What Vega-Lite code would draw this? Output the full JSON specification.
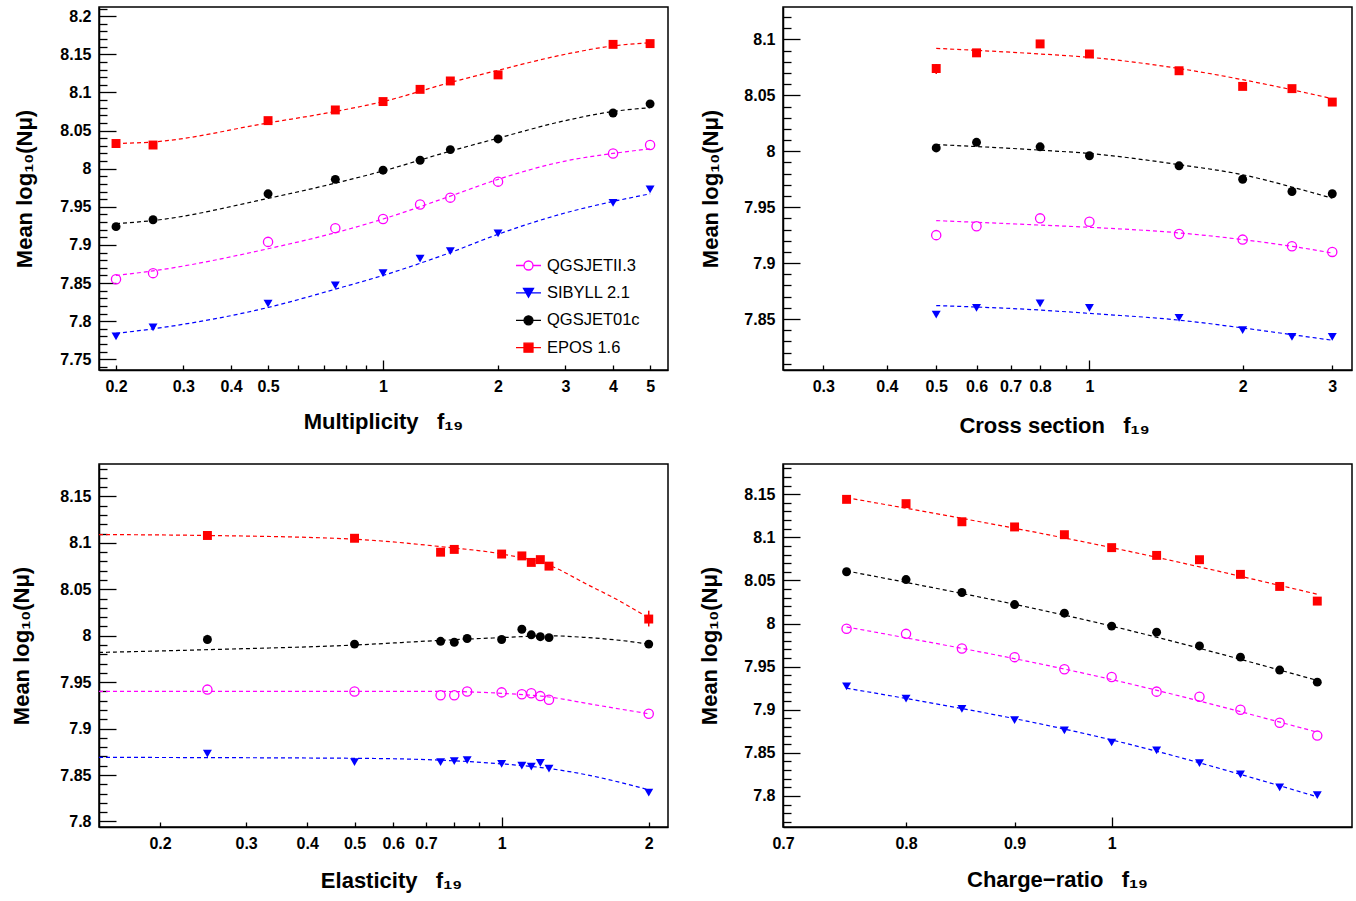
{
  "$schema": "https://vega.github.io/schema/vega-lite/v6.json",
  "background": "white",
  "autosize": {"type": "none"},
  "padding": {"left": 99, "top": 7, "right": 1257, "bottom": 894},
  "bounds": "flush",
  "columns": 2,
  "spacing": {"row": 94, "column": 115},
  "datasets": {
    "pts": [
      {"p":1,"m":"EPOS 1.6","x":0.2,"y":8.033},{"p":1,"m":"EPOS 1.6","x":0.25,"y":8.031},{"p":1,"m":"EPOS 1.6","x":0.5,"y":8.063},{"p":1,"m":"EPOS 1.6","x":0.75,"y":8.077},{"p":1,"m":"EPOS 1.6","x":1,"y":8.088},{"p":1,"m":"EPOS 1.6","x":1.25,"y":8.104},{"p":1,"m":"EPOS 1.6","x":1.5,"y":8.115},{"p":1,"m":"EPOS 1.6","x":2,"y":8.123},{"p":1,"m":"EPOS 1.6","x":4,"y":8.163},{"p":1,"m":"EPOS 1.6","x":5,"y":8.164},
      {"p":1,"m":"QGSJET01c","x":0.2,"y":7.924},{"p":1,"m":"QGSJET01c","x":0.25,"y":7.933},{"p":1,"m":"QGSJET01c","x":0.5,"y":7.967},{"p":1,"m":"QGSJET01c","x":0.75,"y":7.986},{"p":1,"m":"QGSJET01c","x":1,"y":7.998},{"p":1,"m":"QGSJET01c","x":1.25,"y":8.011},{"p":1,"m":"QGSJET01c","x":1.5,"y":8.025},{"p":1,"m":"QGSJET01c","x":2,"y":8.039},{"p":1,"m":"QGSJET01c","x":4,"y":8.073},{"p":1,"m":"QGSJET01c","x":5,"y":8.085},
      {"p":1,"m":"QGSJETII.3","x":0.2,"y":7.855},{"p":1,"m":"QGSJETII.3","x":0.25,"y":7.863},{"p":1,"m":"QGSJETII.3","x":0.5,"y":7.904},{"p":1,"m":"QGSJETII.3","x":0.75,"y":7.922},{"p":1,"m":"QGSJETII.3","x":1,"y":7.934},{"p":1,"m":"QGSJETII.3","x":1.25,"y":7.953},{"p":1,"m":"QGSJETII.3","x":1.5,"y":7.962},{"p":1,"m":"QGSJETII.3","x":2,"y":7.983},{"p":1,"m":"QGSJETII.3","x":4,"y":8.02},{"p":1,"m":"QGSJETII.3","x":5,"y":8.031},
      {"p":1,"m":"SIBYLL 2.1","x":0.2,"y":7.78},{"p":1,"m":"SIBYLL 2.1","x":0.25,"y":7.792},{"p":1,"m":"SIBYLL 2.1","x":0.5,"y":7.823},{"p":1,"m":"SIBYLL 2.1","x":0.75,"y":7.847},{"p":1,"m":"SIBYLL 2.1","x":1,"y":7.863},{"p":1,"m":"SIBYLL 2.1","x":1.25,"y":7.882},{"p":1,"m":"SIBYLL 2.1","x":1.5,"y":7.892},{"p":1,"m":"SIBYLL 2.1","x":2,"y":7.915},{"p":1,"m":"SIBYLL 2.1","x":4,"y":7.955},{"p":1,"m":"SIBYLL 2.1","x":5,"y":7.973},

      {"p":2,"m":"EPOS 1.6","x":0.5,"y":8.074},{"p":2,"m":"EPOS 1.6","x":0.6,"y":8.088},{"p":2,"m":"EPOS 1.6","x":0.8,"y":8.096},{"p":2,"m":"EPOS 1.6","x":1,"y":8.087},{"p":2,"m":"EPOS 1.6","x":1.5,"y":8.072},{"p":2,"m":"EPOS 1.6","x":2,"y":8.058},{"p":2,"m":"EPOS 1.6","x":2.5,"y":8.056},{"p":2,"m":"EPOS 1.6","x":3,"y":8.044},
      {"p":2,"m":"QGSJET01c","x":0.5,"y":8.003},{"p":2,"m":"QGSJET01c","x":0.6,"y":8.008},{"p":2,"m":"QGSJET01c","x":0.8,"y":8.004},{"p":2,"m":"QGSJET01c","x":1,"y":7.996},{"p":2,"m":"QGSJET01c","x":1.5,"y":7.987},{"p":2,"m":"QGSJET01c","x":2,"y":7.975},{"p":2,"m":"QGSJET01c","x":2.5,"y":7.964},{"p":2,"m":"QGSJET01c","x":3,"y":7.962},
      {"p":2,"m":"QGSJETII.3","x":0.5,"y":7.925},{"p":2,"m":"QGSJETII.3","x":0.6,"y":7.933},{"p":2,"m":"QGSJETII.3","x":0.8,"y":7.94},{"p":2,"m":"QGSJETII.3","x":1,"y":7.937},{"p":2,"m":"QGSJETII.3","x":1.5,"y":7.926},{"p":2,"m":"QGSJETII.3","x":2,"y":7.921},{"p":2,"m":"QGSJETII.3","x":2.5,"y":7.915},{"p":2,"m":"QGSJETII.3","x":3,"y":7.91},
      {"p":2,"m":"SIBYLL 2.1","x":0.5,"y":7.854},{"p":2,"m":"SIBYLL 2.1","x":0.6,"y":7.86},{"p":2,"m":"SIBYLL 2.1","x":0.8,"y":7.864},{"p":2,"m":"SIBYLL 2.1","x":1,"y":7.86},{"p":2,"m":"SIBYLL 2.1","x":1.5,"y":7.851},{"p":2,"m":"SIBYLL 2.1","x":2,"y":7.84},{"p":2,"m":"SIBYLL 2.1","x":2.5,"y":7.834},{"p":2,"m":"SIBYLL 2.1","x":3,"y":7.834},

      {"p":3,"m":"EPOS 1.6","x":0.25,"y":8.108},{"p":3,"m":"EPOS 1.6","x":0.5,"y":8.105},{"p":3,"m":"EPOS 1.6","x":0.75,"y":8.09},{"p":3,"m":"EPOS 1.6","x":0.8,"y":8.093},{"p":3,"m":"EPOS 1.6","x":1,"y":8.088},{"p":3,"m":"EPOS 1.6","x":1.1,"y":8.086},{"p":3,"m":"EPOS 1.6","x":1.15,"y":8.079},{"p":3,"m":"EPOS 1.6","x":1.2,"y":8.082},{"p":3,"m":"EPOS 1.6","x":1.25,"y":8.075},{"p":3,"m":"EPOS 1.6","x":2,"y":8.018},
      {"p":3,"m":"QGSJET01c","x":0.25,"y":7.996},{"p":3,"m":"QGSJET01c","x":0.5,"y":7.991},{"p":3,"m":"QGSJET01c","x":0.75,"y":7.994},{"p":3,"m":"QGSJET01c","x":0.8,"y":7.993},{"p":3,"m":"QGSJET01c","x":0.85,"y":7.997},{"p":3,"m":"QGSJET01c","x":1,"y":7.996},{"p":3,"m":"QGSJET01c","x":1.1,"y":8.007},{"p":3,"m":"QGSJET01c","x":1.15,"y":8.001},{"p":3,"m":"QGSJET01c","x":1.2,"y":7.999},{"p":3,"m":"QGSJET01c","x":1.25,"y":7.998},{"p":3,"m":"QGSJET01c","x":2,"y":7.991},
      {"p":3,"m":"QGSJETII.3","x":0.25,"y":7.942},{"p":3,"m":"QGSJETII.3","x":0.5,"y":7.94},{"p":3,"m":"QGSJETII.3","x":0.75,"y":7.936},{"p":3,"m":"QGSJETII.3","x":0.8,"y":7.936},{"p":3,"m":"QGSJETII.3","x":0.85,"y":7.94},{"p":3,"m":"QGSJETII.3","x":1,"y":7.939},{"p":3,"m":"QGSJETII.3","x":1.1,"y":7.937},{"p":3,"m":"QGSJETII.3","x":1.15,"y":7.938},{"p":3,"m":"QGSJETII.3","x":1.2,"y":7.935},{"p":3,"m":"QGSJETII.3","x":1.25,"y":7.931},{"p":3,"m":"QGSJETII.3","x":2,"y":7.916},
      {"p":3,"m":"SIBYLL 2.1","x":0.25,"y":7.873},{"p":3,"m":"SIBYLL 2.1","x":0.5,"y":7.864},{"p":3,"m":"SIBYLL 2.1","x":0.75,"y":7.864},{"p":3,"m":"SIBYLL 2.1","x":0.8,"y":7.865},{"p":3,"m":"SIBYLL 2.1","x":0.85,"y":7.866},{"p":3,"m":"SIBYLL 2.1","x":1,"y":7.862},{"p":3,"m":"SIBYLL 2.1","x":1.1,"y":7.86},{"p":3,"m":"SIBYLL 2.1","x":1.15,"y":7.859},{"p":3,"m":"SIBYLL 2.1","x":1.2,"y":7.863},{"p":3,"m":"SIBYLL 2.1","x":1.25,"y":7.857},{"p":3,"m":"SIBYLL 2.1","x":2,"y":7.831},

      {"p":4,"m":"EPOS 1.6","x":0.75,"y":8.144},{"p":4,"m":"EPOS 1.6","x":0.8,"y":8.139},{"p":4,"m":"EPOS 1.6","x":0.85,"y":8.118},{"p":4,"m":"EPOS 1.6","x":0.9,"y":8.112},{"p":4,"m":"EPOS 1.6","x":0.95,"y":8.103},{"p":4,"m":"EPOS 1.6","x":1,"y":8.088},{"p":4,"m":"EPOS 1.6","x":1.05,"y":8.079},{"p":4,"m":"EPOS 1.6","x":1.1,"y":8.074},{"p":4,"m":"EPOS 1.6","x":1.15,"y":8.057},{"p":4,"m":"EPOS 1.6","x":1.2,"y":8.043},{"p":4,"m":"EPOS 1.6","x":1.25,"y":8.026},
      {"p":4,"m":"QGSJET01c","x":0.75,"y":8.06},{"p":4,"m":"QGSJET01c","x":0.8,"y":8.051},{"p":4,"m":"QGSJET01c","x":0.85,"y":8.036},{"p":4,"m":"QGSJET01c","x":0.9,"y":8.022},{"p":4,"m":"QGSJET01c","x":0.95,"y":8.012},{"p":4,"m":"QGSJET01c","x":1,"y":7.997},{"p":4,"m":"QGSJET01c","x":1.05,"y":7.99},{"p":4,"m":"QGSJET01c","x":1.1,"y":7.974},{"p":4,"m":"QGSJET01c","x":1.15,"y":7.961},{"p":4,"m":"QGSJET01c","x":1.2,"y":7.946},{"p":4,"m":"QGSJET01c","x":1.25,"y":7.932},
      {"p":4,"m":"QGSJETII.3","x":0.75,"y":7.994},{"p":4,"m":"QGSJETII.3","x":0.8,"y":7.988},{"p":4,"m":"QGSJETII.3","x":0.85,"y":7.971},{"p":4,"m":"QGSJETII.3","x":0.9,"y":7.961},{"p":4,"m":"QGSJETII.3","x":0.95,"y":7.947},{"p":4,"m":"QGSJETII.3","x":1,"y":7.938},{"p":4,"m":"QGSJETII.3","x":1.05,"y":7.921},{"p":4,"m":"QGSJETII.3","x":1.1,"y":7.915},{"p":4,"m":"QGSJETII.3","x":1.15,"y":7.9},{"p":4,"m":"QGSJETII.3","x":1.2,"y":7.885},{"p":4,"m":"QGSJETII.3","x":1.25,"y":7.87},
      {"p":4,"m":"SIBYLL 2.1","x":0.75,"y":7.927},{"p":4,"m":"SIBYLL 2.1","x":0.8,"y":7.913},{"p":4,"m":"SIBYLL 2.1","x":0.85,"y":7.901},{"p":4,"m":"SIBYLL 2.1","x":0.9,"y":7.888},{"p":4,"m":"SIBYLL 2.1","x":0.95,"y":7.876},{"p":4,"m":"SIBYLL 2.1","x":1,"y":7.862},{"p":4,"m":"SIBYLL 2.1","x":1.05,"y":7.853},{"p":4,"m":"SIBYLL 2.1","x":1.1,"y":7.838},{"p":4,"m":"SIBYLL 2.1","x":1.15,"y":7.825},{"p":4,"m":"SIBYLL 2.1","x":1.2,"y":7.81},{"p":4,"m":"SIBYLL 2.1","x":1.25,"y":7.801}
    ],
    "fits": [
      {"p":1,"m":"EPOS 1.6","x":0.2,"y":8.033},{"p":1,"m":"EPOS 1.6","x":0.25,"y":8.035},{"p":1,"m":"EPOS 1.6","x":0.5,"y":8.06},{"p":1,"m":"EPOS 1.6","x":0.75,"y":8.075},{"p":1,"m":"EPOS 1.6","x":1,"y":8.088},{"p":1,"m":"EPOS 1.6","x":1.5,"y":8.113},{"p":1,"m":"EPOS 1.6","x":2,"y":8.129},{"p":1,"m":"EPOS 1.6","x":3,"y":8.15},{"p":1,"m":"EPOS 1.6","x":4,"y":8.161},{"p":1,"m":"EPOS 1.6","x":5,"y":8.165},
      {"p":1,"m":"QGSJET01c","x":0.2,"y":7.928},{"p":1,"m":"QGSJET01c","x":0.25,"y":7.932},{"p":1,"m":"QGSJET01c","x":0.5,"y":7.961},{"p":1,"m":"QGSJET01c","x":0.75,"y":7.981},{"p":1,"m":"QGSJET01c","x":1,"y":7.997},{"p":1,"m":"QGSJET01c","x":1.5,"y":8.023},{"p":1,"m":"QGSJET01c","x":2,"y":8.04},{"p":1,"m":"QGSJET01c","x":3,"y":8.063},{"p":1,"m":"QGSJET01c","x":4,"y":8.075},{"p":1,"m":"QGSJET01c","x":5,"y":8.08},
      {"p":1,"m":"QGSJETII.3","x":0.2,"y":7.86},{"p":1,"m":"QGSJETII.3","x":0.25,"y":7.866},{"p":1,"m":"QGSJETII.3","x":0.5,"y":7.895},{"p":1,"m":"QGSJETII.3","x":0.75,"y":7.916},{"p":1,"m":"QGSJETII.3","x":1,"y":7.934},{"p":1,"m":"QGSJETII.3","x":1.5,"y":7.964},{"p":1,"m":"QGSJETII.3","x":2,"y":7.986},{"p":1,"m":"QGSJETII.3","x":3,"y":8.01},{"p":1,"m":"QGSJETII.3","x":4,"y":8.02},{"p":1,"m":"QGSJETII.3","x":5,"y":8.026},
      {"p":1,"m":"SIBYLL 2.1","x":0.2,"y":7.784},{"p":1,"m":"SIBYLL 2.1","x":0.25,"y":7.79},{"p":1,"m":"SIBYLL 2.1","x":0.5,"y":7.818},{"p":1,"m":"SIBYLL 2.1","x":0.75,"y":7.842},{"p":1,"m":"SIBYLL 2.1","x":1,"y":7.86},{"p":1,"m":"SIBYLL 2.1","x":1.5,"y":7.89},{"p":1,"m":"SIBYLL 2.1","x":2,"y":7.914},{"p":1,"m":"SIBYLL 2.1","x":3,"y":7.942},{"p":1,"m":"SIBYLL 2.1","x":4,"y":7.957},{"p":1,"m":"SIBYLL 2.1","x":5,"y":7.967},

      {"p":2,"m":"EPOS 1.6","x":0.5,"y":8.092},{"p":2,"m":"EPOS 1.6","x":0.8,"y":8.087},{"p":2,"m":"EPOS 1.6","x":1,"y":8.084},{"p":2,"m":"EPOS 1.6","x":1.5,"y":8.074},{"p":2,"m":"EPOS 1.6","x":2,"y":8.064},{"p":2,"m":"EPOS 1.6","x":2.5,"y":8.055},{"p":2,"m":"EPOS 1.6","x":3,"y":8.047},
      {"p":2,"m":"QGSJET01c","x":0.5,"y":8.006},{"p":2,"m":"QGSJET01c","x":0.8,"y":8.001},{"p":2,"m":"QGSJET01c","x":1,"y":7.998},{"p":2,"m":"QGSJET01c","x":1.5,"y":7.988},{"p":2,"m":"QGSJET01c","x":2,"y":7.979},{"p":2,"m":"QGSJET01c","x":2.5,"y":7.968},{"p":2,"m":"QGSJET01c","x":3,"y":7.958},
      {"p":2,"m":"QGSJETII.3","x":0.5,"y":7.938},{"p":2,"m":"QGSJETII.3","x":0.8,"y":7.934},{"p":2,"m":"QGSJETII.3","x":1,"y":7.932},{"p":2,"m":"QGSJETII.3","x":1.5,"y":7.927},{"p":2,"m":"QGSJETII.3","x":2,"y":7.921},{"p":2,"m":"QGSJETII.3","x":2.5,"y":7.915},{"p":2,"m":"QGSJETII.3","x":3,"y":7.909},
      {"p":2,"m":"SIBYLL 2.1","x":0.5,"y":7.862},{"p":2,"m":"SIBYLL 2.1","x":0.8,"y":7.858},{"p":2,"m":"SIBYLL 2.1","x":1,"y":7.855},{"p":2,"m":"SIBYLL 2.1","x":1.5,"y":7.849},{"p":2,"m":"SIBYLL 2.1","x":2,"y":7.842},{"p":2,"m":"SIBYLL 2.1","x":2.5,"y":7.836},{"p":2,"m":"SIBYLL 2.1","x":3,"y":7.831},

      {"p":3,"m":"EPOS 1.6","x":0.15,"y":8.109},{"p":3,"m":"EPOS 1.6","x":0.25,"y":8.108},{"p":3,"m":"EPOS 1.6","x":0.5,"y":8.104},{"p":3,"m":"EPOS 1.6","x":0.75,"y":8.096},{"p":3,"m":"EPOS 1.6","x":1,"y":8.088},{"p":3,"m":"EPOS 1.6","x":1.25,"y":8.076},{"p":3,"m":"EPOS 1.6","x":1.5,"y":8.055},{"p":3,"m":"EPOS 1.6","x":1.75,"y":8.037},{"p":3,"m":"EPOS 1.6","x":2,"y":8.019},
      {"p":3,"m":"QGSJET01c","x":0.15,"y":7.982},{"p":3,"m":"QGSJET01c","x":0.25,"y":7.985},{"p":3,"m":"QGSJET01c","x":0.5,"y":7.99},{"p":3,"m":"QGSJET01c","x":0.75,"y":7.995},{"p":3,"m":"QGSJET01c","x":1,"y":7.998},{"p":3,"m":"QGSJET01c","x":1.25,"y":8.0},{"p":3,"m":"QGSJET01c","x":1.5,"y":7.998},{"p":3,"m":"QGSJET01c","x":1.75,"y":7.995},{"p":3,"m":"QGSJET01c","x":2,"y":7.991},
      {"p":3,"m":"QGSJETII.3","x":0.15,"y":7.94},{"p":3,"m":"QGSJETII.3","x":0.5,"y":7.94},{"p":3,"m":"QGSJETII.3","x":0.75,"y":7.94},{"p":3,"m":"QGSJETII.3","x":1,"y":7.938},{"p":3,"m":"QGSJETII.3","x":1.25,"y":7.934},{"p":3,"m":"QGSJETII.3","x":1.5,"y":7.927},{"p":3,"m":"QGSJETII.3","x":1.75,"y":7.921},{"p":3,"m":"QGSJETII.3","x":2,"y":7.916},
      {"p":3,"m":"SIBYLL 2.1","x":0.15,"y":7.869},{"p":3,"m":"SIBYLL 2.1","x":0.5,"y":7.868},{"p":3,"m":"SIBYLL 2.1","x":0.75,"y":7.866},{"p":3,"m":"SIBYLL 2.1","x":1,"y":7.862},{"p":3,"m":"SIBYLL 2.1","x":1.25,"y":7.857},{"p":3,"m":"SIBYLL 2.1","x":1.5,"y":7.85},{"p":3,"m":"SIBYLL 2.1","x":1.75,"y":7.842},{"p":3,"m":"SIBYLL 2.1","x":2,"y":7.834},

      {"p":4,"m":"EPOS 1.6","x":0.75,"y":8.146},{"p":4,"m":"EPOS 1.6","x":1,"y":8.088},{"p":4,"m":"EPOS 1.6","x":1.25,"y":8.034},
      {"p":4,"m":"QGSJET01c","x":0.75,"y":8.061},{"p":4,"m":"QGSJET01c","x":1,"y":7.997},{"p":4,"m":"QGSJET01c","x":1.25,"y":7.934},
      {"p":4,"m":"QGSJETII.3","x":0.75,"y":7.996},{"p":4,"m":"QGSJETII.3","x":1,"y":7.935},{"p":4,"m":"QGSJETII.3","x":1.25,"y":7.874},
      {"p":4,"m":"SIBYLL 2.1","x":0.75,"y":7.925},{"p":4,"m":"SIBYLL 2.1","x":1,"y":7.865},{"p":4,"m":"SIBYLL 2.1","x":1.25,"y":7.799}
    ],
    "errs": [
      {"p":2,"m":"EPOS 1.6","x":0.5,"lo":8.069,"hi":8.078},
      {"p":3,"m":"QGSJET01c","x":0.25,"lo":7.992,"hi":8.001},
      {"p":3,"m":"EPOS 1.6","x":2,"lo":8.01,"hi":8.027}
    ]
  },
  "concat": [
    {
      "width": 569, "height": 363,
      "layer": [
        {"data": {"name": "fits"}, "transform": [{"filter": "datum.p == 1"}],
         "mark": {"type": "line", "strokeDash": [4, 3], "strokeWidth": 1.2, "interpolate": "monotone"},
         "encoding": {
           "x": {"field": "x", "type": "quantitative", "scale": {"type": "log", "domain": [0.1805, 5.57], "nice": false},
             "axis": {"title": "Multiplicity\u00a0\u00a0\u00a0f\u2081\u2089", "values": [0.2,0.3,0.4,0.5,0.6,0.7,0.8,0.9,1,2,3,4,5], "tickCount": 200, "format": "~g",
               "labelExpr": "datum.value > 0.55 && datum.value < 0.95 ? '' : datum.label",
               "tickSize": {"condition": {"test": "datum.value == 1", "value": -10}, "value": -5},
               "labelPadding": {"condition": {"test": "datum.value == 1", "value": 18}, "value": 13},
               "titleX": 284, "titleY": 51, "titleBaseline": "middle"}},
           "y": {"field": "y", "type": "quantitative", "scale": {"domain": [7.736, 8.212], "nice": false, "zero": false},
             "axis": {"title": "Mean log\u2081\u2080(N\u03bc)", "format": "~g", "tickCount": 200,
               "values": [7.74,7.75,7.76,7.77,7.78,7.79,7.8,7.81,7.82,7.83,7.84,7.85,7.86,7.87,7.88,7.89,7.9,7.91,7.92,7.93,7.94,7.95,7.96,7.97,7.98,7.99,8,8.01,8.02,8.03,8.04,8.05,8.06,8.07,8.08,8.09,8.1,8.11,8.12,8.13,8.14,8.15,8.16,8.17,8.18,8.19,8.2,8.21],
               "labelExpr": "abs(datum.value*20 - round(datum.value*20)) < 0.01 ? datum.label : ''",
               "tickSize": {"condition": {"test": "abs(datum.value*20 - round(datum.value*20)) < 0.01", "value": -17}, "value": -8},
               "labelPadding": {"condition": {"test": "abs(datum.value*20 - round(datum.value*20)) < 0.01", "value": 25}, "value": 16},
               "titleX": -75, "titleBaseline": "middle"}},
           "stroke": {"field": "m", "type": "nominal", "scale": {"domain": ["EPOS 1.6","QGSJET01c","SIBYLL 2.1","QGSJETII.3"], "range": ["#ff0000","#000000","#0000ff","#ff00ff"]}, "legend": null}
         }},
        {"data": {"name": "pts"}, "transform": [{"filter": "datum.p == 1 && datum.m != 'QGSJETII.3'"}],
         "mark": {"type": "point", "filled": true, "opacity": 1, "size": 80},
         "encoding": {
           "x": {"field": "x", "type": "quantitative"},
           "y": {"field": "y", "type": "quantitative"},
           "shape": {"field": "m", "type": "nominal", "scale": {"domain": ["EPOS 1.6","QGSJET01c","SIBYLL 2.1","QGSJETII.3"], "range": ["square","circle","triangle-down","circle"]}, "legend": null},
           "fill": {"field": "m", "type": "nominal", "scale": {"domain": ["EPOS 1.6","QGSJET01c","SIBYLL 2.1","QGSJETII.3"], "range": ["#ff0000","#000000","#0000ff","#ff00ff"]}, "legend": null}
         }},
        {"data": {"name": "pts"}, "transform": [{"filter": "datum.p == 1 && datum.m == 'QGSJETII.3'"}],
         "mark": {"type": "point", "filled": false, "shape": "circle", "size": 85, "strokeWidth": 1.3, "opacity": 1,
           "fill": {"expr": "(datum.value || datum.m) == 'QGSJETII.3' ? 'transparent' : (datum.value == 'SIBYLL 2.1' ? '#0000ff' : datum.value == 'QGSJET01c' ? '#000000' : '#ff0000')"}},
         "encoding": {
           "x": {"field": "x", "type": "quantitative"},
           "y": {"field": "y", "type": "quantitative"},
           "color": {"field": "m", "type": "nominal", "scale": {"domain": ["QGSJETII.3","SIBYLL 2.1","QGSJET01c","EPOS 1.6"], "range": ["#ff00ff","#0000ff","#000000","#ff0000"]},
             "legend": {"orient": "none", "legendX": 416, "legendY": 245, "title": null, "padding": 0, "symbolSize": 625, "rowPadding": 5.4, "labelOffset": 5,
               "symbolStrokeWidth": 1.3, "symbolOpacity": 1,
               "symbolType": {"expr": "datum.value == 'SIBYLL 2.1' ? 'M-1,0L1,0M-0.4,-0.35L0.4,-0.35L0,0.35Z' : datum.value == 'EPOS 1.6' ? 'M-1,0L-0.36,0M0.36,0L1,0M-0.36,-0.36L0.36,-0.36L0.36,0.36L-0.36,0.36Z' : 'M-1,0L-0.36,0M0.36,0L1,0M-0.36,0A0.36,0.36,0,1,0,0.36,0A0.36,0.36,0,1,0,-0.36,0'"},
               "labelFont": "Liberation Sans", "labelFontSize": 16.5, "labelFontWeight": "normal", "labelColor": "black"}}
         }}
      ]
    },
    {
      "width": 569, "height": 363,
      "layer": [
        {"data": {"name": "fits"}, "transform": [{"filter": "datum.p == 2"}],
         "mark": {"type": "line", "strokeDash": [4, 3], "strokeWidth": 1.2, "interpolate": "monotone"},
         "encoding": {
           "x": {"field": "x", "type": "quantitative", "scale": {"type": "log", "domain": [0.25, 3.28], "nice": false},
             "axis": {"title": "Cross section\u00a0\u00a0\u00a0f\u2081\u2089", "values": [0.3,0.4,0.5,0.6,0.7,0.8,0.9,1,2,3], "tickCount": 200, "format": "~g",
               "labelExpr": "datum.value > 0.85 && datum.value < 0.95 ? '' : datum.label",
               "tickSize": {"condition": {"test": "datum.value == 1", "value": -10}, "value": -5},
               "labelPadding": {"condition": {"test": "datum.value == 1", "value": 18}, "value": 13},
               "titleX": 271, "titleY": 55, "titleBaseline": "middle"}},
           "y": {"field": "y", "type": "quantitative", "scale": {"domain": [7.8044, 8.129], "nice": false, "zero": false},
             "axis": {"title": "Mean log\u2081\u2080(N\u03bc)", "format": "~g", "tickCount": 200,
               "values": [7.81,7.82,7.83,7.84,7.85,7.86,7.87,7.88,7.89,7.9,7.91,7.92,7.93,7.94,7.95,7.96,7.97,7.98,7.99,8,8.01,8.02,8.03,8.04,8.05,8.06,8.07,8.08,8.09,8.1,8.11,8.12],
               "labelExpr": "abs(datum.value*20 - round(datum.value*20)) < 0.01 ? datum.label : ''",
               "tickSize": {"condition": {"test": "abs(datum.value*20 - round(datum.value*20)) < 0.01", "value": -17}, "value": -8},
               "labelPadding": {"condition": {"test": "abs(datum.value*20 - round(datum.value*20)) < 0.01", "value": 25}, "value": 16},
               "titleX": -73, "titleBaseline": "middle"}},
           "stroke": {"field": "m", "type": "nominal", "scale": {"domain": ["EPOS 1.6","QGSJET01c","SIBYLL 2.1","QGSJETII.3"], "range": ["#ff0000","#000000","#0000ff","#ff00ff"]}, "legend": null}
         }},
        {"data": {"name": "errs"}, "transform": [{"filter": "datum.p == 2"}],
         "mark": {"type": "rule", "strokeWidth": 1.5},
         "encoding": {
           "x": {"field": "x", "type": "quantitative"},
           "y": {"field": "lo", "type": "quantitative"},
           "y2": {"field": "hi"},
           "stroke": {"field": "m", "type": "nominal", "scale": {"domain": ["EPOS 1.6","QGSJET01c","SIBYLL 2.1","QGSJETII.3"], "range": ["#ff0000","#000000","#0000ff","#ff00ff"]}, "legend": null}
         }},
        {"data": {"name": "pts"}, "transform": [{"filter": "datum.p == 2 && datum.m != 'QGSJETII.3'"}],
         "mark": {"type": "point", "filled": true, "opacity": 1, "size": 80},
         "encoding": {
           "x": {"field": "x", "type": "quantitative"},
           "y": {"field": "y", "type": "quantitative"},
           "shape": {"field": "m", "type": "nominal", "scale": {"domain": ["EPOS 1.6","QGSJET01c","SIBYLL 2.1","QGSJETII.3"], "range": ["square","circle","triangle-down","circle"]}, "legend": null},
           "fill": {"field": "m", "type": "nominal", "scale": {"domain": ["EPOS 1.6","QGSJET01c","SIBYLL 2.1","QGSJETII.3"], "range": ["#ff0000","#000000","#0000ff","#ff00ff"]}, "legend": null}
         }},
        {"data": {"name": "pts"}, "transform": [{"filter": "datum.p == 2 && datum.m == 'QGSJETII.3'"}],
         "mark": {"type": "point", "filled": false, "shape": "circle", "size": 85, "strokeWidth": 1.3, "opacity": 1},
         "encoding": {
           "x": {"field": "x", "type": "quantitative"},
           "y": {"field": "y", "type": "quantitative"},
           "stroke": {"field": "m", "type": "nominal", "scale": {"domain": ["EPOS 1.6","QGSJET01c","SIBYLL 2.1","QGSJETII.3"], "range": ["#ff0000","#000000","#0000ff","#ff00ff"]}, "legend": null}
         }}
      ]
    },
    {
      "width": 569, "height": 363,
      "layer": [
        {"data": {"name": "fits"}, "transform": [{"filter": "datum.p == 3"}],
         "mark": {"type": "line", "strokeDash": [4, 3], "strokeWidth": 1.2, "interpolate": "monotone"},
         "encoding": {
           "x": {"field": "x", "type": "quantitative", "scale": {"type": "log", "domain": [0.15, 2.19], "nice": false},
             "axis": {"title": "Elasticity\u00a0\u00a0\u00a0f\u2081\u2089", "values": [0.2,0.3,0.4,0.5,0.6,0.7,0.8,0.9,1,2], "tickCount": 200, "format": "~g",
               "labelExpr": "datum.value > 0.75 && datum.value < 0.95 ? '' : datum.label",
               "tickSize": {"condition": {"test": "datum.value == 1", "value": -10}, "value": -5},
               "labelPadding": {"condition": {"test": "datum.value == 1", "value": 18}, "value": 13},
               "titleX": 292, "titleY": 53, "titleBaseline": "middle"}},
           "y": {"field": "y", "type": "quantitative", "scale": {"domain": [7.794, 8.185], "nice": false, "zero": false},
             "axis": {"title": "Mean log\u2081\u2080(N\u03bc)", "format": "~g", "tickCount": 200,
               "values": [7.8,7.81,7.82,7.83,7.84,7.85,7.86,7.87,7.88,7.89,7.9,7.91,7.92,7.93,7.94,7.95,7.96,7.97,7.98,7.99,8,8.01,8.02,8.03,8.04,8.05,8.06,8.07,8.08,8.09,8.1,8.11,8.12,8.13,8.14,8.15,8.16,8.17,8.18],
               "labelExpr": "abs(datum.value*20 - round(datum.value*20)) < 0.01 ? datum.label : ''",
               "tickSize": {"condition": {"test": "abs(datum.value*20 - round(datum.value*20)) < 0.01", "value": -17}, "value": -8},
               "labelPadding": {"condition": {"test": "abs(datum.value*20 - round(datum.value*20)) < 0.01", "value": 25}, "value": 16},
               "titleX": -78, "titleBaseline": "middle"}},
           "stroke": {"field": "m", "type": "nominal", "scale": {"domain": ["EPOS 1.6","QGSJET01c","SIBYLL 2.1","QGSJETII.3"], "range": ["#ff0000","#000000","#0000ff","#ff00ff"]}, "legend": null}
         }},
        {"data": {"name": "errs"}, "transform": [{"filter": "datum.p == 3"}],
         "mark": {"type": "rule", "strokeWidth": 1.5},
         "encoding": {
           "x": {"field": "x", "type": "quantitative"},
           "y": {"field": "lo", "type": "quantitative"},
           "y2": {"field": "hi"},
           "stroke": {"field": "m", "type": "nominal", "scale": {"domain": ["EPOS 1.6","QGSJET01c","SIBYLL 2.1","QGSJETII.3"], "range": ["#ff0000","#000000","#0000ff","#ff00ff"]}, "legend": null}
         }},
        {"data": {"name": "pts"}, "transform": [{"filter": "datum.p == 3 && datum.m != 'QGSJETII.3'"}],
         "mark": {"type": "point", "filled": true, "opacity": 1, "size": 80},
         "encoding": {
           "x": {"field": "x", "type": "quantitative"},
           "y": {"field": "y", "type": "quantitative"},
           "shape": {"field": "m", "type": "nominal", "scale": {"domain": ["EPOS 1.6","QGSJET01c","SIBYLL 2.1","QGSJETII.3"], "range": ["square","circle","triangle-down","circle"]}, "legend": null},
           "fill": {"field": "m", "type": "nominal", "scale": {"domain": ["EPOS 1.6","QGSJET01c","SIBYLL 2.1","QGSJETII.3"], "range": ["#ff0000","#000000","#0000ff","#ff00ff"]}, "legend": null}
         }},
        {"data": {"name": "pts"}, "transform": [{"filter": "datum.p == 3 && datum.m == 'QGSJETII.3'"}],
         "mark": {"type": "point", "filled": false, "shape": "circle", "size": 85, "strokeWidth": 1.3, "opacity": 1},
         "encoding": {
           "x": {"field": "x", "type": "quantitative"},
           "y": {"field": "y", "type": "quantitative"},
           "stroke": {"field": "m", "type": "nominal", "scale": {"domain": ["EPOS 1.6","QGSJET01c","SIBYLL 2.1","QGSJETII.3"], "range": ["#ff0000","#000000","#0000ff","#ff00ff"]}, "legend": null}
         }}
      ]
    },
    {
      "width": 569, "height": 363,
      "layer": [
        {"data": {"name": "fits"}, "transform": [{"filter": "datum.p == 4"}],
         "mark": {"type": "line", "strokeDash": [4, 3], "strokeWidth": 1.2, "interpolate": "monotone"},
         "encoding": {
           "x": {"field": "x", "type": "quantitative", "scale": {"type": "log", "domain": [0.7, 1.298], "nice": false},
             "axis": {"title": "Charge\u2212ratio\u00a0\u00a0\u00a0f\u2081\u2089", "values": [0.7,0.8,0.9,1], "tickCount": 200, "format": "~g",
               "tickSize": {"condition": {"test": "datum.value == 1", "value": -10}, "value": -5},
               "labelPadding": {"condition": {"test": "datum.value == 1", "value": 18}, "value": 13},
               "titleX": 274, "titleY": 52, "titleBaseline": "middle"}},
           "y": {"field": "y", "type": "quantitative", "scale": {"domain": [7.764, 8.185], "nice": false, "zero": false},
             "axis": {"title": "Mean log\u2081\u2080(N\u03bc)", "format": "~g", "tickCount": 200,
               "values": [7.77,7.78,7.79,7.8,7.81,7.82,7.83,7.84,7.85,7.86,7.87,7.88,7.89,7.9,7.91,7.92,7.93,7.94,7.95,7.96,7.97,7.98,7.99,8,8.01,8.02,8.03,8.04,8.05,8.06,8.07,8.08,8.09,8.1,8.11,8.12,8.13,8.14,8.15,8.16,8.17,8.18],
               "labelExpr": "abs(datum.value*20 - round(datum.value*20)) < 0.01 ? datum.label : ''",
               "tickSize": {"condition": {"test": "abs(datum.value*20 - round(datum.value*20)) < 0.01", "value": -17}, "value": -8},
               "labelPadding": {"condition": {"test": "abs(datum.value*20 - round(datum.value*20)) < 0.01", "value": 25}, "value": 16},
               "titleX": -74, "titleBaseline": "middle"}},
           "stroke": {"field": "m", "type": "nominal", "scale": {"domain": ["EPOS 1.6","QGSJET01c","SIBYLL 2.1","QGSJETII.3"], "range": ["#ff0000","#000000","#0000ff","#ff00ff"]}, "legend": null}
         }},
        {"data": {"name": "pts"}, "transform": [{"filter": "datum.p == 4 && datum.m != 'QGSJETII.3'"}],
         "mark": {"type": "point", "filled": true, "opacity": 1, "size": 80},
         "encoding": {
           "x": {"field": "x", "type": "quantitative"},
           "y": {"field": "y", "type": "quantitative"},
           "shape": {"field": "m", "type": "nominal", "scale": {"domain": ["EPOS 1.6","QGSJET01c","SIBYLL 2.1","QGSJETII.3"], "range": ["square","circle","triangle-down","circle"]}, "legend": null},
           "fill": {"field": "m", "type": "nominal", "scale": {"domain": ["EPOS 1.6","QGSJET01c","SIBYLL 2.1","QGSJETII.3"], "range": ["#ff0000","#000000","#0000ff","#ff00ff"]}, "legend": null}
         }},
        {"data": {"name": "pts"}, "transform": [{"filter": "datum.p == 4 && datum.m == 'QGSJETII.3'"}],
         "mark": {"type": "point", "filled": false, "shape": "circle", "size": 85, "strokeWidth": 1.3, "opacity": 1},
         "encoding": {
           "x": {"field": "x", "type": "quantitative"},
           "y": {"field": "y", "type": "quantitative"},
           "stroke": {"field": "m", "type": "nominal", "scale": {"domain": ["EPOS 1.6","QGSJET01c","SIBYLL 2.1","QGSJETII.3"], "range": ["#ff0000","#000000","#0000ff","#ff00ff"]}, "legend": null}
         }}
      ]
    }
  ],
  "config": {
    "view": {"stroke": "#000000", "strokeWidth": 1.5},
    "axis": {
      "grid": false, "labelFont": "Liberation Sans", "labelFontSize": 16, "labelFontWeight": "bold", "labelColor": "#000000",
      "titleFont": "Liberation Sans", "titleFontSize": 22, "titleFontWeight": "bold", "titleColor": "#000000",
      "domainColor": "#000000", "domainWidth": 1.5, "tickColor": "#000000", "tickWidth": 1.3,
      "labelFlush": false, "labelOverlap": false, "labelBound": false
    },
    "legend": {"labelFont": "Liberation Sans"}
  }
}
